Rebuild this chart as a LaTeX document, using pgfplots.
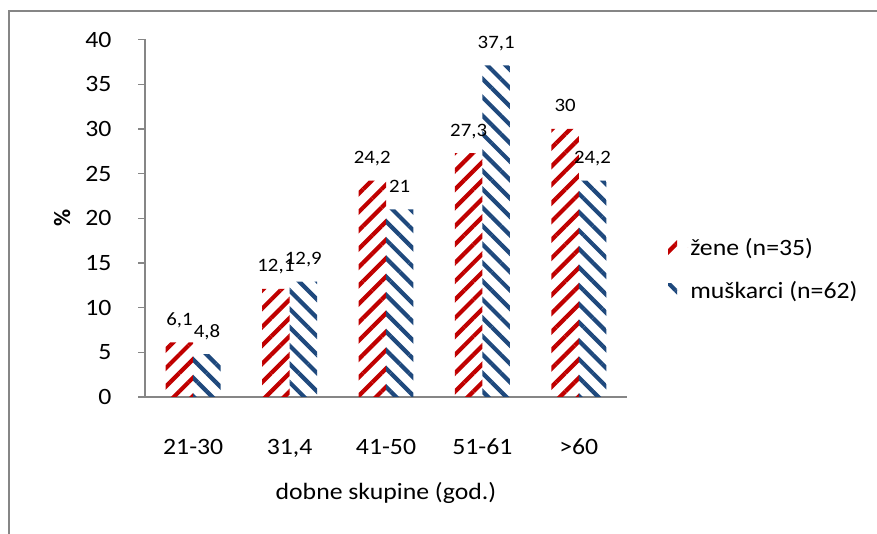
\documentclass[border=0pt]{standalone}
\usepackage{fontspec}
\setmainfont{Carlito}
\usepackage{pgfplots}
\pgfplotsset{compat=1.18}
\usetikzlibrary{patterns.meta}

\definecolor{zred}{RGB}{192,0,0}
\definecolor{mblue}{RGB}{31,73,125}
\definecolor{axgray}{RGB}{134,134,134}
\newcommand\chartfont{\fontsize{23.5}{28}\selectfont}

\begin{document}
\begin{tikzpicture}
\useasboundingbox (0,0) rectangle (877bp,534bp);
% chart frame (cut at right and bottom, as in the source)
\draw[axgray, line width=2bp] (9bp,-5bp) |- (885bp,523bp);
\begin{axis}[
	at={(145bp,137bp)}, anchor=south west,
	scale only axis,
	width=482bp, height=357.5bp,
	xmin=-0.5, xmax=4.5,
	ymin=0, ymax=40,
	ybar,
	axis x line*=bottom,
	axis y line*=left,
	axis line style={axgray, line width=1.3bp},
	xtick={0,...,4},
	xticklabels={21-30,{31,4},41-50,51-61,>60},
	ytick={0,5,...,40},
	xtick style={draw=none},
	ytick style={axgray, line width=1.3bp},
	tick align=outside,
	major tick length=7bp,
	/pgf/number format/use comma,
	/pgf/number format/assume math mode=true,
	tick label style={font=\chartfont, xscale=1.1},
	yticklabel style={anchor=east, inner sep=0pt, xshift=-24bp},
	xticklabel style={anchor=base, inner sep=0pt, yshift=-50bp},
	xlabel={dobne skupine (god.)},
	xlabel style={font=\chartfont, xscale=1.1, at={(axis description cs:0.5,-0.288)}, anchor=base},
	ylabel={\bfseries\%},
	ylabel style={font=\chartfont, at={(axis description cs:-0.172,0.5)}, anchor=center},
	nodes near coords,
	every node near coord/.append style={font=\fontsize{19}{22}\selectfont, xscale=1.1, anchor=base, inner sep=0pt, yshift=17bp},
	legend image code/.code={\fill[#1] (0bp,-7bp) rectangle (9bp,7bp); \path (0bp,0bp) -- (20bp,0bp);},
	legend style={at={(axis description cs:1.085,0.45)}, anchor=north west,
		draw=none, fill=none, font=\chartfont, row sep=20bp, inner sep=0pt,
		cells={anchor=west}, nodes={xscale=1.1}},
]
\addplot[draw=none, bar width=0.285, bar shift=-0.1425,
	pattern={Lines[angle=45,distance=13bp,line width=4.2bp]}, pattern color=zred]
	coordinates {(0,6.1) (1,12.1) (2,24.2) (3,27.3) (4,30)};
\addplot[draw=none, bar width=0.285, bar shift=0.1425,
	pattern={Lines[angle=-45,distance=13bp,line width=4.2bp]}, pattern color=mblue]
	coordinates {(0,4.8) (1,12.9) (2,21) (3,37.1) (4,24.2)};
\legend{žene (n=35), muškarci (n=62)}
\end{axis}
\end{tikzpicture}
\end{document}
